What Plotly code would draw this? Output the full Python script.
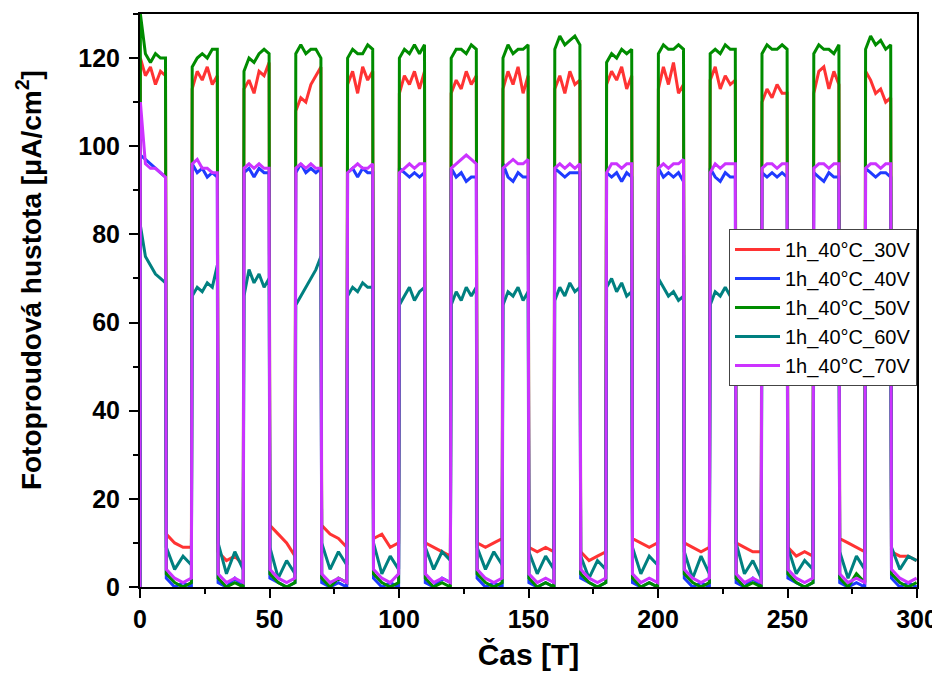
import plotly.graph_objects as go

# ---------------- data ----------------
series_names = ["1h_40°C_30V", "1h_40°C_40V", "1h_40°C_50V", "1h_40°C_60V", "1h_40°C_70V"]
series_colors = ["#FF3333", "#1F3BFF", "#008C00", "#008080", "#CC33FF"]

cycle_starts = [0, 20, 40, 60, 80, 100, 120, 140, 160, 180, 200, 220, 240, 260, 280]
on_length = 10
period = 20

# light-on plateau samples (6 per cycle)
on_30V = [
    [120, 116, 118, 114, 117, 116], [113, 117, 115, 118, 114, 116], [113, 115, 112, 117, 116, 119],
    [108, 111, 110, 114, 116, 118], [114, 117, 112, 118, 115, 117], [112, 116, 114, 117, 113, 117],
    [112, 115, 113, 117, 114, 116], [113, 117, 114, 118, 112, 116], [113, 116, 112, 117, 114, 115],
    [114, 117, 115, 118, 113, 116], [113, 118, 114, 119, 112, 114], [115, 118, 113, 116, 114, 115],
    [110, 113, 111, 114, 112, 112], [112, 117, 118, 113, 117, 114], [117, 115, 112, 113, 110, 111],
]
on_40V = [
    [98, 97, 96, 95, 94, 93], [96, 94, 95, 93, 94, 93], [94, 95, 93, 95, 94, 94],
    [94, 96, 94, 95, 94, 95], [94, 95, 93, 95, 94, 94], [95, 94, 93, 94, 93, 94],
    [95, 93, 94, 92, 93, 93], [96, 93, 92, 94, 93, 93], [95, 94, 93, 94, 94, 94],
    [94, 93, 94, 92, 94, 93], [95, 93, 94, 93, 94, 92], [95, 93, 92, 94, 93, 93],
    [94, 93, 94, 93, 94, 93], [94, 93, 92, 94, 93, 93], [95, 94, 93, 94, 94, 93],
]
on_50V = [
    [130, 121, 119, 121, 120, 120], [118, 120, 121, 120, 122, 122], [117, 120, 119, 121, 122, 121],
    [121, 123, 121, 122, 122, 120], [120, 122, 121, 121, 123, 122], [120, 122, 121, 123, 121, 123],
    [120, 122, 122, 121, 123, 122], [120, 123, 121, 122, 122, 123], [122, 125, 123, 124, 125, 123],
    [119, 121, 120, 122, 121, 122], [121, 123, 122, 122, 123, 122], [121, 122, 121, 123, 122, 122],
    [121, 123, 122, 122, 123, 122], [121, 123, 122, 122, 121, 123], [122, 125, 123, 124, 122, 123],
]
on_60V = [
    [82, 75, 73, 71, 70, 69], [66, 68, 67, 69, 68, 73], [66, 72, 69, 71, 68, 70],
    [64, 66, 68, 70, 72, 75], [66, 68, 67, 69, 68, 68], [64, 66, 68, 65, 67, 68],
    [64, 67, 65, 68, 66, 68], [64, 67, 66, 68, 65, 67], [65, 68, 66, 69, 67, 68],
    [68, 70, 67, 69, 66, 67], [70, 68, 66, 67, 65, 66], [64, 67, 66, 68, 66, 67],
    [66, 68, 67, 69, 67, 68], [65, 67, 66, 68, 66, 67], [64, 66, 65, 67, 65, 66],
]
on_70V = [
    [110, 96, 95, 95, 94, 93], [96, 97, 95, 95, 94, 94], [95, 96, 95, 96, 95, 95],
    [95, 96, 95, 96, 95, 95], [94, 95, 96, 95, 95, 96], [94, 95, 96, 95, 96, 96],
    [95, 96, 97, 98, 97, 96], [95, 96, 97, 96, 96, 97], [95, 96, 95, 96, 95, 96],
    [94, 96, 96, 95, 96, 96], [95, 96, 95, 96, 96, 97], [94, 96, 95, 96, 96, 96],
    [95, 96, 96, 95, 96, 96], [95, 96, 96, 95, 96, 96], [95, 96, 96, 95, 96, 96],
]

# light-off samples (4 per cycle)
off_30V = [
    [12, 10, 9, 9], [8, 6, 7, 5], [14, 12, 10, 7], [14, 12, 11, 9], [11, 12, 9, 10],
    [10, 9, 8, 7], [10, 9, 10, 11], [9, 8, 9, 8], [8, 6, 7, 8], [11, 10, 9, 10],
    [10, 9, 8, 9], [10, 9, 8, 8], [9, 7, 8, 7], [11, 10, 9, 8], [8, 7, 7, 6],
]
off_40V = [
    [2, 0, 1, 0], [1, 0, 2, 0], [2, 1, 0, 1], [1, 0, 1, 0], [2, 0, 1, 0],
    [1, 0, 2, 1], [2, 0, 1, 0], [1, 0, 1, 0], [2, 1, 0, 1], [1, 0, 1, 0],
    [2, 0, 1, 0], [1, 0, 2, 0], [2, 1, 0, 1], [1, 0, 1, 0], [2, 0, 1, 0],
]
off_50V = [
    [3, 1, 0, 1], [2, 0, 1, 0], [3, 1, 0, 1], [2, 0, 2, 1], [3, 1, 0, 1],
    [2, 0, 1, 0], [3, 1, 0, 1], [2, 0, 1, 0], [3, 1, 0, 1], [2, 0, 1, 0],
    [3, 1, 0, 1], [2, 0, 1, 0], [3, 1, 0, 1], [2, 0, 3, 1], [3, 1, 0, 1],
]
off_60V = [
    [9, 4, 7, 5], [10, 3, 8, 4], [9, 2, 6, 3], [10, 4, 8, 5], [10, 3, 7, 4],
    [9, 4, 8, 6], [9, 4, 8, 5], [8, 3, 7, 4], [7, 2, 6, 4], [9, 3, 7, 5],
    [8, 2, 7, 3], [10, 3, 6, 2], [9, 3, 6, 4], [8, 2, 7, 4], [9, 4, 7, 6],
]
off_70V = [
    [4, 2, 1, 2], [3, 1, 2, 1], [4, 2, 1, 2], [3, 1, 2, 1], [4, 2, 1, 3],
    [3, 1, 2, 1], [4, 2, 1, 2], [3, 1, 2, 1], [4, 2, 1, 2], [3, 1, 2, 1],
    [4, 2, 1, 2], [3, 1, 2, 1], [4, 2, 1, 2], [3, 1, 2, 1], [4, 2, 1, 2],
]

on_data = [on_30V, on_40V, on_50V, on_60V, on_70V]
off_data = [off_30V, off_40V, off_50V, off_60V, off_70V]

x_ticks = [0, 50, 100, 150, 200, 250, 300]
y_ticks = [0, 20, 40, 60, 80, 100, 120]

x_title = "Čas [T]"
y_title = "Fotoproudová hustota [μA/cm<sup>2</sup>]"

# ---------------- build traces ----------------
def build_series(on_cycles, off_cycles):
    xs, ys = [0.0], [0.0]
    for s, on_vals, off_vals in zip(cycle_starts, on_cycles, off_cycles):
        n_on = len(on_vals)
        for i, v in enumerate(on_vals):
            xs.append(s + 0.15 + i * (on_length - 0.3) / (n_on - 1))
            ys.append(v)
        n_off = len(off_vals)
        off_len = period - on_length
        for i, v in enumerate(off_vals):
            xs.append(s + on_length + 0.15 + i * (off_len - 0.3) / (n_off - 1))
            ys.append(v)
    return xs, ys

fig = go.Figure()
for name, color, on_c, off_c in zip(series_names, series_colors, on_data, off_data):
    xs, ys = build_series(on_c, off_c)
    fig.add_trace(go.Scatter(x=xs, y=ys, mode="lines", name=name,
                             line=dict(color=color, width=3)))

font_family = "Liberation Sans, Arial, sans-serif"

# page has an 8px body margin, so the figure is 8px smaller and shifted
fig.update_layout(
    width=932, height=669,
    margin=dict(l=132, r=23, t=6, b=90),
    paper_bgcolor="white", plot_bgcolor="white",
    font=dict(family=font_family, color="black"),
    legend=dict(
        x=1, xanchor="right", y=0.625, yanchor="top",
        bgcolor="white", bordercolor="#444", borderwidth=1,
        font=dict(size=20, family=font_family, color="black"),
        itemwidth=45, tracegroupgap=0,
    ),
    showlegend=True,
    annotations=[dict(
        text=y_title, textangle=-90, showarrow=False,
        xref="paper", yref="paper", x=-0.142, y=0.535,
        xanchor="center", yanchor="middle",
        font=dict(size=28, family=font_family, weight="bold", color="black"),
    )],
)

fig.update_xaxes(
    range=[0, 300], tickvals=x_ticks, automargin=False,
    showgrid=False, zeroline=False,
    showline=True, linecolor="black", linewidth=2, mirror=True,
    ticks="outside", ticklen=9, tickwidth=2, tickcolor="black",
    minor=dict(dtick=25, tick0=0, ticks="outside", ticklen=5, tickwidth=2, tickcolor="black"),
    tickfont=dict(size=25, family=font_family, weight="bold"),
    title=dict(text=x_title, font=dict(size=30, family=font_family, weight="bold"), standoff=12),
)
fig.update_yaxes(
    range=[0, 130], tickvals=y_ticks, automargin=False,
    showgrid=False, zeroline=False,
    showline=True, linecolor="black", linewidth=2, mirror=True,
    ticks="outside", ticklen=9, tickwidth=2, tickcolor="black",
    ticklabelstandoff=4,
    minor=dict(dtick=10, tick0=0, ticks="outside", ticklen=5, tickwidth=2, tickcolor="black"),
    tickfont=dict(size=25, family=font_family, weight="bold"),
)

fig.write_html("out.html")
